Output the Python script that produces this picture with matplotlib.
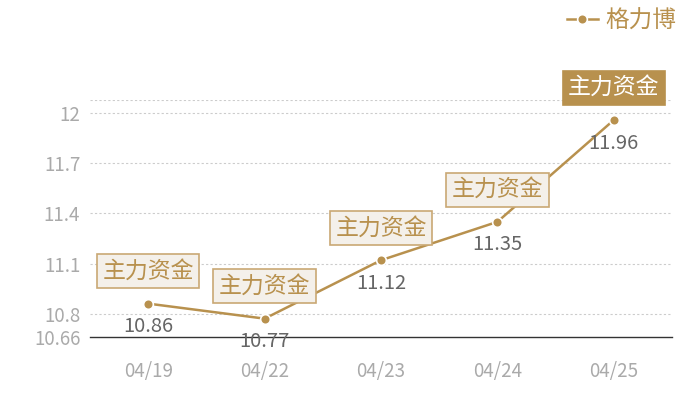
import matplotlib
matplotlib.use("Agg")
import matplotlib.pyplot as plt

plt.rcParams['font.family'] = ['Noto Sans CJK SC', 'DejaVu Sans']

dates = ["04/19", "04/22", "04/23", "04/24", "04/25"]
values = [10.86, 10.77, 11.12, 11.35, 11.96]
tag_text = "主力资金"
series_name = "格力博"
y_ticks = [10.66, 10.8, 11.1, 11.4, 11.7, 12]
y_tick_labels = ["10.66", "10.8", "11.1", "11.4", "11.7", "12"]

gold = "#b8914e"
tag_fill = "#f4f0ea"
tag_edge = "#c9a874"

fig = plt.figure(figsize=(7, 4), dpi=100)
ax = fig.add_axes([90/700, 1 - 337/400, (672-90)/700, (337-100)/400])

x = list(range(len(dates)))
ax.plot(x, values, color=gold, lw=1.8, marker='o', ms=7, mfc=gold,
        mec='white', mew=1.2, zorder=3, label=series_name)

ax.set_xlim(-0.5, len(dates) - 0.5)
ax.set_ylim(10.66, 12.08)
ax.set_yticks(y_ticks)
ax.set_yticklabels(y_tick_labels)
ax.set_xticks(x)
ax.set_xticklabels(dates)
ax.tick_params(axis='both', length=0, labelsize=13.5, colors='#aaaaaa')
ax.tick_params(axis='x', pad=17)
ax.tick_params(axis='y', pad=7)

for sp in ['top', 'right', 'left']:
    ax.spines[sp].set_visible(False)
ax.spines['bottom'].set_color('#333333')
ax.spines['bottom'].set_linewidth(1)

for yv in [10.8, 11.1, 11.4, 11.7, 12, 12.08]:
    ax.axhline(yv, color='#cccccc', lw=0.8, ls=(0, (2, 2)), zorder=1)

for i, v in enumerate(values):
    ax.annotate(f"{v:.2f}", (i, v), xytext=(0, -9), textcoords='offset points',
                ha='center', va='top', fontsize=14.5, color='#666666', zorder=4)
    last = i == len(values) - 1
    ax.annotate(tag_text, (i, v), xytext=(0, 15), textcoords='offset points',
                ha='center', va='bottom', fontsize=16.5,
                color='white' if last else gold, zorder=5,
                bbox=dict(boxstyle='square,pad=0.24',
                          fc=gold if last else tag_fill,
                          ec=gold if last else tag_edge, lw=1.2))

leg = fig.legend(loc='upper right', bbox_to_anchor=(697/700, 1.03), frameon=False,
                 fontsize=17, handlelength=1.3, handletextpad=0.3)
for t in leg.get_texts():
    t.set_color(gold)

fig.savefig("out.png", dpi=100)
